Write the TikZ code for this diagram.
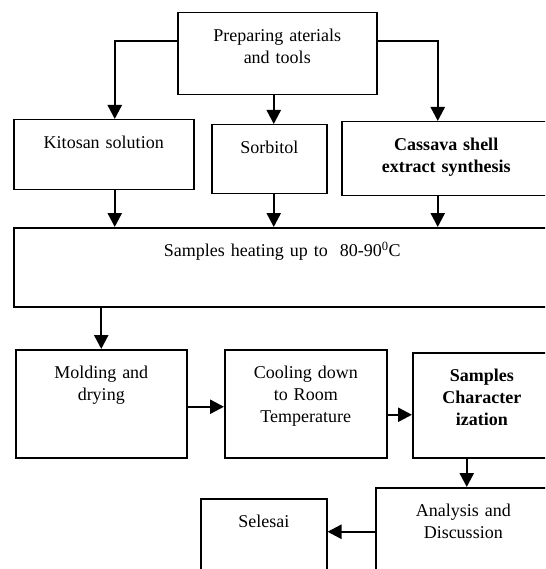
\documentclass[tikz,border=0pt]{standalone}
\usepackage{fontspec}
\setmainfont{Liberation Serif}
\usetikzlibrary{positioning,
        arrows.meta}

\begin{document}
\begin{tikzpicture}[x=1pt,y=-1pt,
        stage/.style={draw,line width=1.5pt,anchor=north west,inner sep=0pt,align=center,
            font=\fontsize{18}{22}\selectfont,text height=29pt},
        flow/.style={-{Triangle[width=14pt,length=14pt]},line width=2.4pt}]
            \clip (0,0) rectangle (545,569);
            \node [stage,text width=199pt,text depth=53pt] (Prep) at (177,12) {Preparing aterials\\and tools};
            \node [stage,text width=180pt,text depth=41pt] (Kitosan) at (13,119) {Kitosan solution};
            \node [stage,text width=115pt,text depth=40pt] (Sorbitol) at (211,124) {Sorbitol};
            \node [stage,text width=209pt,text depth=45pt] (Cassava) at (341,121) {\bfseries Cassava shell\\\bfseries extract synthesis};
            \node [stage,text width=537pt,text depth=50pt] (Heating) at (13,227) {Samples heating up to \ 80-90\textsuperscript{0}C};
            \node [stage,text width=171pt,text depth=79pt] (Molding) at (15,349) {Molding and\\drying};
            \node [stage,text width=162pt,text depth=79pt] (Cooling) at (224,349) {Cooling down\\to Room\\Temperature};
            \node [stage,text width=138pt,text depth=76pt] (Char) at (412,352) {\bfseries Samples\\\bfseries Character\\\bfseries ization};
            \node [stage,text width=175pt,text depth=74pt] (Analysis) at (375,487) {Analysis and\\Discussion};
            \node [stage,text width=126pt,text depth=63pt] (Selesai) at (200,498) {Selesai};

            \draw [flow] ([yshift=13pt]Prep.west) -| ([xshift=11pt]Kitosan.north);
            \draw [flow] ([xshift=-3.5pt]Prep.south) -- ([xshift=-3.5pt]Prep.south |- Sorbitol.north);
            \draw [flow] ([yshift=13pt]Prep.east) -| ([xshift=-8.5pt]Cassava.north);
            \draw [flow] ([xshift=11pt]Kitosan.south) -- ([xshift=11pt]Kitosan.south |- Heating.north);
            \draw [flow] ([xshift=4.5pt]Sorbitol.south) -- ([xshift=4.5pt]Sorbitol.south |- Heating.north);
            \draw [flow] ([xshift=-8.5pt]Cassava.south) -- ([xshift=-8.5pt]Cassava.south |- Heating.north);
            \draw [flow] (Heating.south -| Molding.north) -- (Molding.north);
            \draw [flow] ([yshift=-3pt]Molding.east) -- ([yshift=-3pt]Molding.east -| Cooling.west);
            \draw [flow] ([yshift=-11pt]Cooling.east) -- ([yshift=-11pt]Cooling.east -| Char.west);
            \draw [flow] ([xshift=-15pt]Char.south) -- ([xshift=-15pt]Char.south |- Analysis.north);
            \draw [flow] ([yshift=7.5pt]Analysis.west) -- ([yshift=7.5pt]Analysis.west -| Selesai.east);
        \end{tikzpicture}
\end{document}
